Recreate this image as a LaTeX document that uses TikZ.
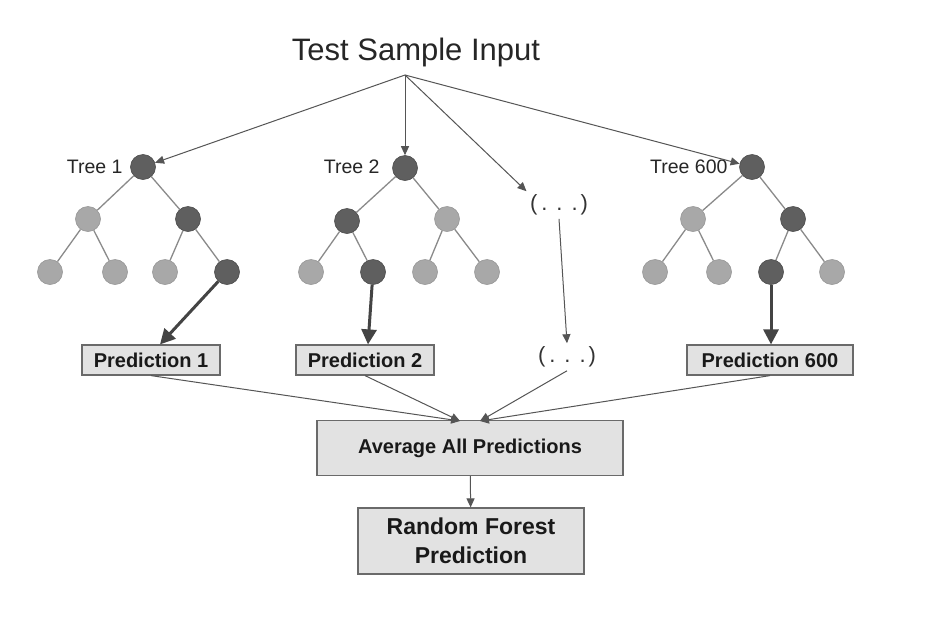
\documentclass[tikz,border=0pt]{standalone}
\usepackage{fontspec}
\setmainfont{Liberation Sans}
\usetikzlibrary{arrows.meta}
\definecolor{darknode}{HTML}{5F5F5F}
\definecolor{lightnode}{HTML}{A8A8A8}
\definecolor{edgecol}{HTML}{8A8A8A}
\definecolor{boxfill}{HTML}{E2E2E2}
\definecolor{boxline}{HTML}{6A6A6A}
\definecolor{arrowcol}{HTML}{555555}
\newcommand{\mydots}{(\hspace{4pt}.\hspace{9pt}.\hspace{9pt}.\hspace{3pt})}
\begin{document}
\begin{tikzpicture}[x=1pt,y=-1pt,
  dnode/.style={circle,fill=darknode,draw=darknode!80!black,line width=0.6pt,minimum size=25pt,inner sep=0pt},
  lnode/.style={circle,fill=lightnode,draw=lightnode!90!black,line width=0.6pt,minimum size=25pt,inner sep=0pt},
  tedge/.style={draw=edgecol,line width=1.3pt},
  thin arrow/.style={draw=arrowcol,line width=1pt,-{Triangle[length=9pt,width=8pt]}},
  thick arrow/.style={draw=arrowcol!80!black,line width=3pt,-{Triangle[length=15pt,width=15pt]}},
  predbox/.style={draw=boxline,fill=boxfill,line width=1.2pt,font=\bfseries\fontsize{20}{22}\selectfont,inner xsep=5pt,minimum height=30pt,text=black!90},
  treelabel/.style={font=\fontsize{19.5}{22}\selectfont,text=black!85},
  dots/.style={font=\fontsize{22}{24}\selectfont,text=black!80}
]
\useasboundingbox (0,0) rectangle (936,616);
\fill[white] (0,0) rectangle (936,616);

\node[font=\fontsize{31}{34}\selectfont,text=black!85] (tsi) at (416,52) {Test Sample Input};
\coordinate (src) at (405,75);

% Tree 1
\node[dnode] (a0) at (143,167) {};
\node[lnode] (a1) at (88,219) {};
\node[dnode] (a2) at (188,219) {};
\node[lnode] (a3) at (50,272) {};
\node[lnode] (a4) at (115,272) {};
\node[lnode] (a5) at (165,272) {};
\node[dnode] (a6) at (227,272) {};
\node[treelabel,anchor=east] (la) at (126,167) {Tree 1};
\draw[tedge] (a0)--(a1) (a0)--(a2) (a1)--(a3) (a1)--(a4) (a2)--(a5) (a2)--(a6);

% Tree 2
\node[dnode] (b0) at (405,168) {};
\node[dnode] (b1) at (347,221) {};
\node[lnode] (b2) at (447,219) {};
\node[lnode] (b3) at (311,272) {};
\node[dnode] (b4) at (373,272) {};
\node[lnode] (b5) at (425,272) {};
\node[lnode] (b6) at (487,272) {};
\node[treelabel,anchor=east] (lb) at (383,167) {Tree 2};
\draw[tedge] (b0)--(b1) (b0)--(b2) (b1)--(b3) (b1)--(b4) (b2)--(b5) (b2)--(b6);

% Tree 600
\node[dnode] (c0) at (752,167) {};
\node[lnode] (c1) at (693,219) {};
\node[dnode] (c2) at (793,219) {};
\node[lnode] (c3) at (655,272) {};
\node[lnode] (c4) at (719,272) {};
\node[dnode] (c5) at (771,272) {};
\node[lnode] (c6) at (832,272) {};
\node[treelabel,anchor=east] (lc) at (731,167) {Tree 600};
\draw[tedge] (c0)--(c1) (c0)--(c2) (c1)--(c3) (c1)--(c4) (c2)--(c5) (c2)--(c6);

% dots
\node[dots] (d1) at (559,205) {\mydots};
\node[dots] (d2) at (567,357) {\mydots};

% predictions
\node[predbox,minimum width=138pt] (p1) at (151,360) {Prediction 1};
\node[predbox,minimum width=138pt] (p2) at (365,360) {Prediction 2};
\node[predbox,minimum width=166pt] (p3) at (770,360) {Prediction 600};
\node[predbox,minimum width=306pt,minimum height=55pt] (avg) at (470,448) {Average All Predictions};
\node[predbox,minimum width=226pt,minimum height=66pt,align=center,font=\bfseries\fontsize{23}{29}\selectfont] (rf) at (471,541) {Random Forest\\Prediction};

% arrows from input
\draw[thin arrow] (src) -- (d1.north west);
\draw[thin arrow] (src) -- (a0);
\draw[thin arrow] (src) -- (b0);
\draw[thin arrow] (src) -- (c0);

% thick arrows
\draw[thick arrow] (a6) -- (p1.north -| 160,0);
\draw[thick arrow] (b4) -- (p2.north -| 368,0);
\draw[thick arrow] (c5) -- (p3.north -| 771,0);
\draw[thin arrow] (d1.south) -- (d2.north);

% to average
\coordinate (t1) at (460,421);
\coordinate (t2) at (480,421);
\draw[thin arrow] (p1.south) -- (t1);
\draw[thin arrow] (p2.south) -- (t1);
\draw[thin arrow] (d2.south) -- (t2);
\draw[thin arrow] (p3.south) -- (t2);
\draw[thin arrow] (avg) -- (rf);
\end{tikzpicture}
\end{document}
